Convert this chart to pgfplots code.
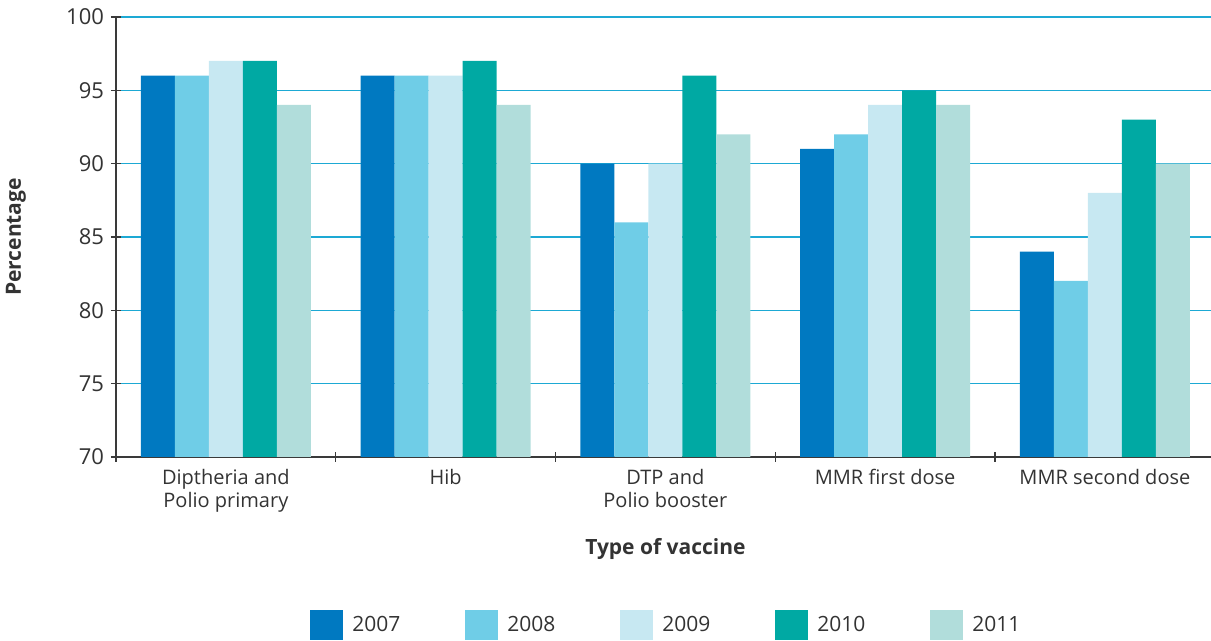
\documentclass[border=0pt]{standalone}
\usepackage{pgfplots}
\pgfplotsset{compat=1.18}
\usepackage{fontspec}
\setmainfont{Open Sans}
\definecolor{c2007}{HTML}{0079C1}
\definecolor{c2008}{HTML}{6FCDE7}
\definecolor{c2009}{HTML}{C7E8F2}
\definecolor{c2010}{HTML}{00A9A3}
\definecolor{c2011}{HTML}{B1DDDB}
\definecolor{gridc}{HTML}{1DA9D4}
\definecolor{txt}{HTML}{333333}
\definecolor{axc}{HTML}{3A3A3A}
\begin{document}
\begin{tikzpicture}
\begin{axis}[
  name=ax,
  scale only axis,
  width=549.4pt, height=220pt,
  ybar=0pt, bar width=17pt,
  xmin=-0.5, xmax=4.5,
  ymin=70, ymax=100,
  ytick={70,75,...,100},
  xtick={0,1,2,3,4},
  xticklabels={{Diptheria and\\Polio primary},Hib,{DTP and\\Polio booster},MMR first dose,MMR second dose},
  xticklabel style={align=center, font=\fontsize{10}{11.5}\selectfont, text=txt},
  yticklabel style={font=\fontsize{11}{13}\selectfont, text=txt},
  /pgf/number format/assume math mode=true,
  tick align=outside,
  major tick length=5pt,
  tick style={draw=axc, line width=0.6pt},
  xtick style={draw=none},
  extra x ticks={-0.5,0.5,1.5,2.5,3.5},
  extra x tick labels={},
  extra x tick style={grid=none, xtick style={draw=axc, line width=0.6pt}},
  axis lines=left,
  axis line style={-, draw=axc, line width=0.6pt},
  ymajorgrids,
  major grid style={draw=gridc, line width=0.6pt},
  xlabel={\textbf{Type of vaccine}},
  ylabel={\textbf{Percentage}},
  label style={font=\fontsize{10.5}{12}\selectfont, text=txt},
  xlabel style={at={(axis description cs:0.5,-0.209)}, anchor=center},
  ylabel style={at={(axis description cs:-0.091,0.5)}, anchor=center},
  legend columns=5,
  legend style={at={(0.504,-0.3818)}, anchor=center, draw=none, fill=none,
    font=\fontsize{10.5}{12}\selectfont, text=txt,
    /tikz/every even column/.append style={column sep=28pt},
    nodes={inner xsep=4.5pt, text width=24pt, align=left}},
  legend image code/.code={\fill[#1] (0pt,-7.5pt) rectangle (16.5pt,7.5pt);},
]
\addplot[fill=c2007, draw=none] coordinates {(0,96) (1,96) (2,90) (3,91) (4,84)};
\addplot[fill=c2008, draw=none] coordinates {(0,96) (1,96) (2,86) (3,92) (4,82)};
\addplot[fill=c2009, draw=none] coordinates {(0,97) (1,96) (2,90) (3,94) (4,88)};
\addplot[fill=c2010, draw=none] coordinates {(0,97) (1,97) (2,96) (3,95) (4,93)};
\addplot[fill=c2011, draw=none] coordinates {(0,94) (1,94) (2,92) (3,94) (4,90)};
\legend{2007,2008,2009,2010,2011}
\end{axis}
\pgfresetboundingbox
\path ([shift={(-58pt,-92pt)}]ax.south west) rectangle ++(605.5pt,320.5pt);
\end{tikzpicture}
\end{document}
